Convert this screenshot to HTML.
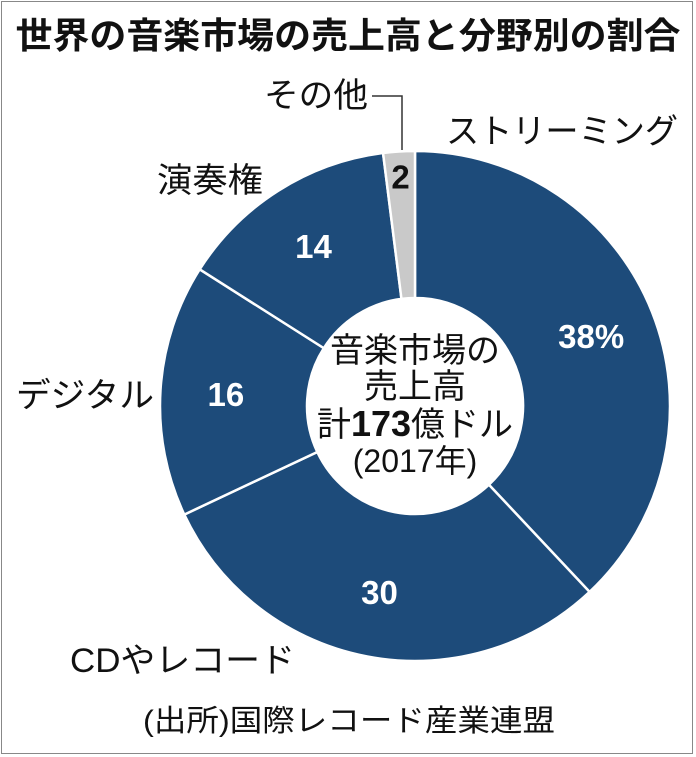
<!DOCTYPE html>
<html><head><meta charset="utf-8"><style>
html,body{margin:0;padding:0;background:#fff}
#wrap{position:relative;width:696px;height:757px;overflow:hidden;font-family:"Liberation Sans","Noto Sans CJK JP",sans-serif}
#frame{position:absolute;left:1px;top:1px;width:692px;height:753px;border:1px solid #888;box-sizing:border-box}
</style></head><body>
<div id="wrap">
<div id="frame"></div>
<svg id="chart" width="696" height="757" style="position:absolute;left:0;top:0">
<text x="348" y="48" text-anchor="middle" font-size="36" font-weight="bold" fill="#111" textLength="665" lengthAdjust="spacingAndGlyphs">世界の音楽市場の売上高と分野別の割合</text>
<g id="slices"></g>
<g id="labels"></g>
<polyline points="372,96 402,96 402,150" fill="none" stroke="#333" stroke-width="1.5"/>
<text x="415" y="362" text-anchor="middle" font-size="34" fill="#111">音楽市場の</text>
<text x="415" y="398" text-anchor="middle" font-size="34" fill="#111">売上高</text>
<text x="415" y="436" text-anchor="middle" font-size="34" fill="#111">計<tspan font-weight="bold" font-size="36">173</tspan>億ドル</text>
<text x="415" y="472" text-anchor="middle" font-size="32" fill="#111">(2017年)</text>
<text x="143" y="731" font-size="30" fill="#111" textLength="412" lengthAdjust="spacingAndGlyphs">(出所)国際レコード産業連盟</text>
</svg>
</div>
<script>
const categories=["ストリーミング","CDやレコード","デジタル","演奏権","その他"];
const values=[38,30,16,14,2];
const valueLabels=["38%","30","16","14","2"];
const colors=["#1d4b7a","#1d4b7a","#1d4b7a","#1d4b7a","#c9c9c9"];
const cx=415,cy=406,R=255,r=108;
const NS="http://www.w3.org/2000/svg";
const total=values.reduce((a,b)=>a+b,0);
function pt(a,rad){return [cx+rad*Math.sin(a),cy-rad*Math.cos(a)];}
const gS=document.getElementById('slices'),gL=document.getElementById('labels');
let acc=0;
values.forEach((v,i)=>{
  const a0=acc/total*2*Math.PI,a1=(acc+v)/total*2*Math.PI;acc+=v;
  const large=(a1-a0)>Math.PI?1:0;
  const p0=pt(a0,R),p1=pt(a1,R),q1=pt(a1,r),q0=pt(a0,r);
  const p=document.createElementNS(NS,'path');
  p.setAttribute('d',`M${p0[0]},${p0[1]} A${R},${R} 0 ${large} 1 ${p1[0]},${p1[1]} L${q1[0]},${q1[1]} A${r},${r} 0 ${large} 0 ${q0[0]},${q0[1]} Z`);
  p.setAttribute('fill',colors[i]);p.setAttribute('stroke','#fff');p.setAttribute('stroke-width','2.5');
  
  
  gS.appendChild(p);
  const am=(a0+a1)/2;const lr=i===4?230:(R+r)/2+8;const lp=pt(am,lr);
  const t=document.createElementNS(NS,'text');
  t.setAttribute('x',lp[0]);t.setAttribute('y',lp[1]+12);
  t.setAttribute('text-anchor','middle');t.setAttribute('font-size','33');t.setAttribute('font-weight','bold');
  t.setAttribute('fill',i===4?'#111':'#fff');
  t.textContent=valueLabels[i];
  
  
  gL.appendChild(t);
});
const catPos=[[446,143,232],[70,672,225],[16,407,138],[157,192,106],[264,107,104]];
categories.forEach((c,i)=>{
  const t=document.createElementNS(NS,'text');
  t.setAttribute('x',catPos[i][0]);t.setAttribute('y',catPos[i][1]);
  t.setAttribute('font-size','34');t.setAttribute('fill','#111');
  t.setAttribute('textLength',catPos[i][2]);t.setAttribute('lengthAdjust','spacingAndGlyphs');
  t.textContent=c;
  
  
  gL.appendChild(t);
});
</script>
</body></html>
